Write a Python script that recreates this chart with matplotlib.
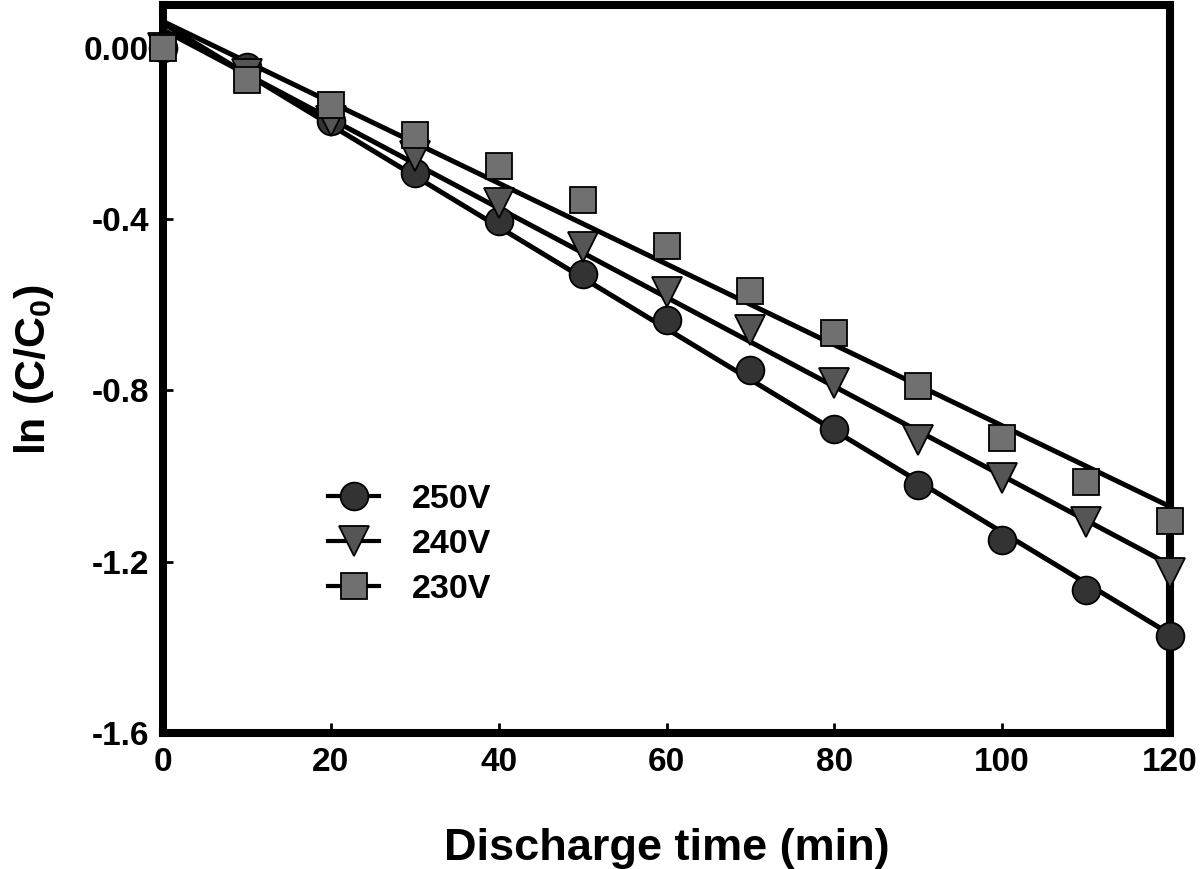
import numpy as np
import matplotlib
matplotlib.use("Agg")
import matplotlib.pyplot as plt

plt.rcParams['font.family'] = ['Liberation Sans', 'DejaVu Sans']
plt.rcParams['font.weight'] = 'bold'
plt.rcParams['mathtext.default'] = 'regular'

time_min = [0, 10, 20, 30, 40, 50, 60, 70, 80, 90, 100, 110, 120]
v250 = [0, -0.045, -0.170, -0.293, -0.405, -0.528, -0.636, -0.752, -0.890, -1.020, -1.149, -1.265, -1.373]
v240 = [0, -0.060, -0.170, -0.252, -0.362, -0.466, -0.570, -0.660, -0.782, -0.915, -1.004, -1.107, -1.226]
v230 = [0, -0.075, -0.134, -0.204, -0.277, -0.356, -0.463, -0.568, -0.666, -0.790, -0.911, -1.013, -1.106]
labels = ['250V', '240V', '230V']
xticks = [0, 20, 40, 60, 80, 100, 120]
yticks = [0.0, -0.4, -0.8, -1.2, -1.6]
ytick_labels = ['0.00', '-0.4', '-0.8', '-1.2', '-1.6']

series = [v250, v240, v230]
markers = ['o', 'v', 's']
colors = ['#333333', '#555555', '#707070']
msizes = [20, 21, 19]

fig = plt.figure(figsize=(12, 8.69), dpi=100)
ax = fig.add_axes([163/1200, 1-733/869, (1170-163)/1200, (733-5)/869])

x = np.array(time_min, dtype=float)
handles = []
for i, (y, m, c, ms, lab) in enumerate(zip(series, markers, colors, msizes, labels)):
    y = np.array(y)
    k, b = np.polyfit(x, y, 1)
    xf = np.array([0, 120.0])
    ax.plot(xf, k*xf + b, color='black', lw=3.6, zorder=2, solid_capstyle='butt', clip_on=False)
    ax.plot(x, y, ls='none', marker=m, ms=ms, mfc=c, mec='black', mew=1.3, zorder=3+i, clip_on=False)
    h, = ax.plot([], [], color='black', lw=3, marker=m, ms=ms, mfc=c, mec='black', mew=1.3, label=lab)
    handles.append(h)

ax.set_xlim(0, 120)
ax.set_ylim(-1.6, 0.1)
ax.set_xticks(xticks)
ax.set_yticks(yticks)
ax.set_yticklabels(ytick_labels)
ax.tick_params(direction='in', length=7, width=2, labelsize=24, pad=10)
for lbl in ax.get_xticklabels() + ax.get_yticklabels():
    lbl.set_fontweight('bold')
for s in ax.spines.values():
    s.set_linewidth(5.8)

ax.set_xlabel('Discharge time (min)', fontsize=32.5, fontweight='bold', labelpad=36)
ax.set_ylabel('ln (C/C$_0$)', fontsize=31, fontweight='bold', labelpad=20)

leg = ax.legend(handles=handles, loc='upper left', bbox_to_anchor=(0.147, 0.366),
                frameon=False, fontsize=24.5, handlelength=1.5, handletextpad=0.95,
                labelspacing=0.42, borderpad=0, markerscale=1.0)
for t in leg.get_texts():
    t.set_fontweight('bold')

fig.savefig('out.png', dpi=100)
